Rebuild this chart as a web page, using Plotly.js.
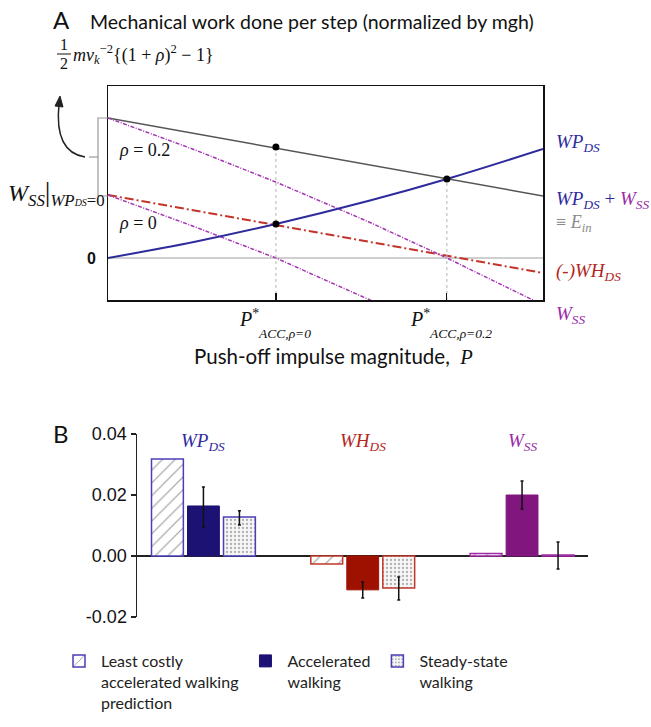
<!DOCTYPE html>
<html><head><meta charset="utf-8">
<script src="https://cdn.plot.ly/plotly-3.0.1.min.js"></script>
<style>html,body{margin:0;padding:0;background:#fff}</style>
</head><body><div id="chart" style="width:651px;height:727px"></div>
<script>
// ---------- Panel A (schematic, normalized P from 0 to 1; arbitrary work units) ----------
const pLine = [0, 1];
const eInRho02 = [140, 62];            // WP_DS + W_SS = E_in (rho = 0.2)
const whDSneg = [63, -15];             // (-)WH_DS  (= E_in for rho = 0)
const pCurve = [0, 0.2, 0.386, 0.6, 0.779, 1];
const wpDS = [0, 16.3, 34, 57.2, 79, 109];
const wssRho02 = [140, 108.1, 75.9, 36, 0, -47];
const pCurve0 = [0, 0.2, 0.386, 0.6, 0.7];
const wssRho0 = [63, 31.1, 0, -41, -61];
const accP = [0.386, 0.779];           // P*_ACC for rho = 0 and rho = 0.2
const accTop = [111, 79];              // top of the dotted guide lines
const dotP = [0.386, 0.386, 0.779];
const dotW = [34, 111, 79];
const accSub = ['ACC,ρ=0', 'ACC,ρ=0.2'];

// ---------- Panel B ----------
const groups = ['WP_DS', 'WH_DS', 'W_SS'];
const predicted = [0.0318, -0.0026, 0.0008];
const accelerated = [0.0164, -0.0111, 0.0200];
const accelErrPlus = [0.0062, 0.0026, 0.0046];
const accelErrMinus = [0.0069, 0.0027, 0.0046];
const steady = [0.0128, -0.0105, 0.0003];
const steadyErrPlus = [0.0020, 0.0036, 0.0043];
const steadyErrMinus = [0.0026, 0.0039, 0.0046];
const yTicks = [-0.02, 0, 0.02, 0.04];
const yTickText = ['-0.02', '0.00', '0.02', '0.04'];
const legendNames = ['Least costly<br>accelerated walking<br>prediction', 'Accelerated<br>walking', 'Steady-state<br>walking'];

const BLUE = '#2f2a9e', RED = '#b3261c', PURPLE = '#9a2aa6', GRAY = '#8a8a8a';
const edge = [ '#4a3fb8', '#c0392b', '#a02aa8' ];
const solid = [ '#1c1274', '#9e1000', '#82167f' ];
const SANS = 'Lato, "Open Sans", sans-serif';
const SERIF = '"Liberation Serif", "DejaVu Serif", serif';
const ARIAL = '"Liberation Sans", Arial, sans-serif';

const X = p => p / 651, Y = p => 1 - p / 727;

const traces = [
  {x: pLine, y: eInRho02, mode: 'lines', line: {color: '#555', width: 1.5}, xaxis: 'x', yaxis: 'y', showlegend: false},
  {x: pLine, y: whDSneg, mode: 'lines', line: {color: '#c4332a', width: 2, dash: '9px,3px,2px,3px'}, xaxis: 'x', yaxis: 'y', showlegend: false},
  {x: pCurve, y: wssRho02, mode: 'lines', line: {color: '#a534b3', width: 1.5, dash: '4px,1.5px,1px,1.5px'}, xaxis: 'x', yaxis: 'y', showlegend: false},
  {x: pCurve0, y: wssRho0, mode: 'lines', line: {color: '#a534b3', width: 1.5, dash: '4px,1.5px,1px,1.5px'}, xaxis: 'x', yaxis: 'y', showlegend: false},
  {x: pCurve, y: wpDS, mode: 'lines', line: {color: '#2e2b9c', width: 2, shape: 'spline'}, xaxis: 'x', yaxis: 'y', showlegend: false},
  {x: [accP[0], accP[0]], y: [-42, accTop[0]], mode: 'lines', line: {color: '#b5b5b5', width: 1, dash: 'dot'}, xaxis: 'x', yaxis: 'y', showlegend: false},
  {x: [accP[1], accP[1]], y: [-42, accTop[1]], mode: 'lines', line: {color: '#b5b5b5', width: 1, dash: 'dot'}, xaxis: 'x', yaxis: 'y', showlegend: false},
  {x: dotP, y: dotW, mode: 'markers', marker: {color: '#000', size: 7}, xaxis: 'x', yaxis: 'y', showlegend: false},
  // Panel B bars
  {type: 'bar', x: groups, y: predicted, name: legendNames[0], xaxis: 'x2', yaxis: 'y2',
   marker: {color: '#ffffff', line: {color: edge, width: 1.5},
            pattern: {shape: '/', fgcolor: '#9a9a9a', bgcolor: '#ffffff', size: 9, solidity: 0.12}}},
  {type: 'bar', x: groups, y: accelerated, name: legendNames[1], xaxis: 'x2', yaxis: 'y2',
   marker: {color: solid, line: {color: solid, width: 1}},
   error_y: {type: 'data', array: accelErrPlus, arrayminus: accelErrMinus, color: '#111', thickness: 1.5, width: 1.5}},
  {type: 'bar', x: groups, y: steady, name: legendNames[2], xaxis: 'x2', yaxis: 'y2',
   marker: {color: '#f3f3f3', line: {color: edge, width: 1.5},
            pattern: {shape: '.', fgcolor: '#b0b0b0', bgcolor: '#f6f6f6', size: 4, solidity: 0.25}},
   error_y: {type: 'data', array: steadyErrPlus, arrayminus: steadyErrMinus, color: '#111', thickness: 1.5, width: 1.5}}
];

const ann = [];
function A(o) { ann.push(Object.assign({xref: 'paper', yref: 'paper', showarrow: false, xanchor: 'left', yanchor: 'middle'}, o)); }

A({x: X(51), y: Y(19), text: 'A', font: {family: SANS, size: 24, color: '#111'}});
A({x: X(51), y: Y(433), text: 'B', font: {family: SANS, size: 24, color: '#111'}});
A({x: X(333), y: Y(356), xanchor: 'center', text: 'Push-off impulse magnitude,  <span style="font-family:Liberation Serif"><i>P</i></span>', font: {family: SANS, size: 20.5, color: '#111'}});
accP.forEach((p, i) => {
  ann.push({xref: 'x', yref: 'paper', x: p, y: Y(318), xshift: -39, xanchor: 'left', yanchor: 'middle', showarrow: false,
            text: '<i>P</i><sup>*</sup>', font: {family: SERIF, size: 20, color: '#111'}});
  ann.push({xref: 'x', yref: 'paper', x: p, y: Y(333), xshift: -20, xanchor: 'left', yanchor: 'middle', showarrow: false,
            text: '<i>' + accSub[i] + '</i>', font: {family: SERIF, size: 13.5, color: '#111'}});
});
A({x: X(117), y: Y(150), text: '<i>ρ</i> = 0.2', font: {family: SERIF, size: 18, color: '#111'}});
A({x: X(117), y: Y(223), text: '<i>ρ</i> = 0', font: {family: SERIF, size: 18, color: '#111'}});
A({x: X(98), y: Y(258), xanchor: 'right', text: '<b>0</b>', font: {family: ARIAL, size: 16, color: '#111'}});
A({x: X(107), y: Y(193), xanchor: 'right', text: '<i>W</i><sub><i>SS</i></sub><span style="font-size:28px">|</span><sub><i>WP</i><span style="font-size:10px"><i>DS</i></span>=0</sub>', font: {family: SERIF, size: 24, color: '#111'}});
A({x: X(64), y: Y(45), xanchor: 'center', text: '1', font: {family: SERIF, size: 16, color: '#111'}});
A({x: X(64), y: Y(63), xanchor: 'center', text: '2', font: {family: SERIF, size: 16, color: '#111'}});
A({x: X(71), y: Y(54), text: '<i>mv</i><sub><i>k</i></sub><sup>−2</sup>{(1 + <i>ρ</i>)<sup>2</sup> − 1}', font: {family: SERIF, size: 18, color: '#111'}});
// right-side labels of panel A
A({x: X(554), y: Y(143), text: '<i>WP</i><sub><i>DS</i></sub>', font: {family: SERIF, size: 19, color: BLUE}});
A({x: X(554), y: Y(200), text: '<i>WP</i><sub><i>DS</i></sub> + <span style="color:' + PURPLE + '"><i>W</i><sub><i>SS</i></sub></span>', font: {family: SERIF, size: 19, color: BLUE}});
A({x: X(554), y: Y(223), text: '≡ <i>E</i><sub><i>in</i></sub>', font: {family: SERIF, size: 18, color: GRAY}});
A({x: X(554), y: Y(272), text: '<i>(-)WH</i><sub><i>DS</i></sub>', font: {family: SERIF, size: 19, color: RED}});
A({x: X(554), y: Y(315), text: '<i>W</i><sub><i>SS</i></sub>', font: {family: SERIF, size: 19, color: PURPLE}});
// group labels panel B
const gLab = ['<i>WP</i><sub><i>DS</i></sub>', '<i>WH</i><sub><i>DS</i></sub>', '<i>W</i><sub><i>SS</i></sub>'];
const gCol = [BLUE, RED, PURPLE];
groups.forEach((g, i) => ann.push({xref: 'x2', yref: 'paper', x: g, y: Y(442), xanchor: 'center', yanchor: 'middle', showarrow: false,
  text: gLab[i], font: {family: SERIF, size: 19, color: gCol[i]}}));

const path = pts => pts.map((p, i) => (i ? 'L' : 'M') + X(p[0]) + ',' + Y(p[1])).join(' ');
const shapes = [
  {type: 'path', xref: 'paper', yref: 'paper', path: path([[108, 118], [98, 118], [98, 196], [108, 196]]), line: {color: '#9a9a9a', width: 1.2}},
  {type: 'path', xref: 'paper', yref: 'paper', path: path([[98, 157], [89, 157]]), line: {color: '#9a9a9a', width: 1.2}},
  {type: 'path', xref: 'paper', yref: 'paper', path: path([[57, 54], [71, 54]]), line: {color: '#111', width: 1}},
  {type: 'path', xref: 'paper', yref: 'paper',
   path: 'M' + X(85) + ',' + Y(157) + ' Q' + X(54) + ',' + Y(152) + ' ' + X(59) + ',' + Y(104), line: {color: '#222', width: 1.5}},
  {type: 'path', xref: 'paper', yref: 'paper', path: path([[55, 106], [60, 96], [63, 107]]) + ' Z', fillcolor: '#222', line: {color: '#222', width: 1}}
];

const layout = {
  width: 651, height: 727, margin: {l: 0, r: 0, t: 0, b: 0},
  paper_bgcolor: '#fff', plot_bgcolor: '#fff',
  title: {text: 'Mechanical work done per step (normalized by mgh)', x: X(90), xanchor: 'left', y: Y(22), yanchor: 'middle',
          font: {family: SANS, size: 19.5, color: '#111'}},
  xaxis: {domain: [X(108), X(543)], range: [0, 1], showgrid: false, zeroline: false, showline: true, mirror: true,
          linecolor: '#111', linewidth: 1.5, tickvals: accP, ticks: 'inside', ticklen: 7, tickcolor: '#111', tickwidth: 1.2,
          showticklabels: false, anchor: 'y'},
  yaxis: {domain: [Y(300), Y(86)], range: [-42, 172], showgrid: false, zeroline: true, zerolinecolor: '#cfcfcf', zerolinewidth: 1.5,
          showline: true, mirror: true, linecolor: '#111', linewidth: 1.5, showticklabels: false, ticks: '', anchor: 'x'},
  xaxis2: {domain: [X(137), X(588)], type: 'category', range: [-0.417, 2.414], showgrid: false, zeroline: false, showline: false,
           showticklabels: false, ticks: '', anchor: 'y2'},
  yaxis2: {domain: [Y(617), Y(434)], range: [-0.02, 0.04], tickvals: yTicks, ticktext: yTickText, ticks: 'outside', ticklen: 5,
           tickcolor: '#222', tickwidth: 1.2, showline: true, linecolor: '#222', linewidth: 1.5, showgrid: false,
           zeroline: true, zerolinecolor: '#222', zerolinewidth: 1.5, tickfont: {family: ARIAL, size: 18, color: '#111'}, anchor: 'x2'},
  barmode: 'group', bargap: 0.322, bargroupgap: 0.115,
  showlegend: true,
  legend: {orientation: 'h', x: X(57), y: Y(644), xanchor: 'left', yanchor: 'top', valign: 'top', itemwidth: 34,
           font: {family: SANS, size: 16, color: '#222'}, traceorder: 'normal', bgcolor: 'rgba(0,0,0,0)'},
  annotations: ann, shapes: shapes
};

Plotly.newPlot('chart', traces, layout, {displayModeBar: false, staticPlot: true});
</script>
</body></html>
